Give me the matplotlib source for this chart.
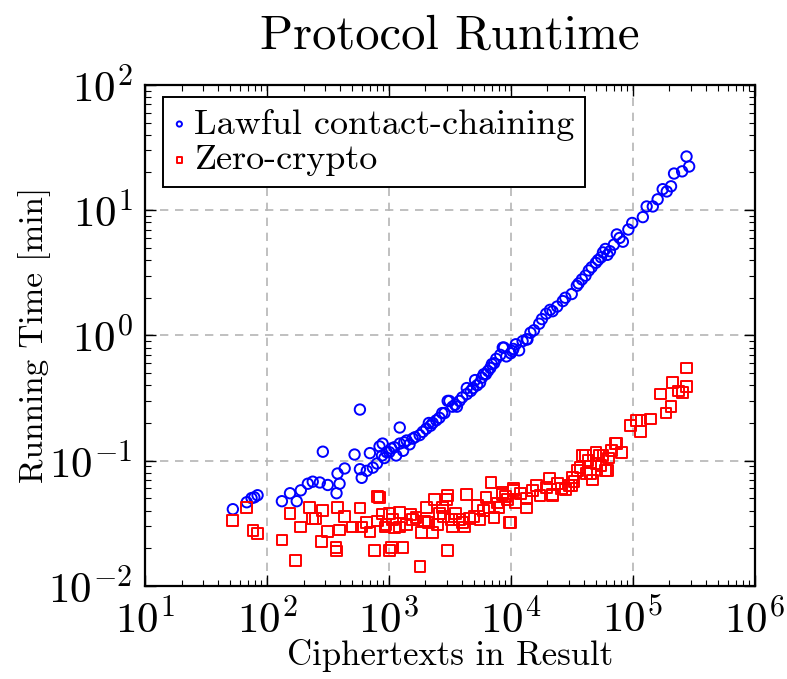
import matplotlib
matplotlib.use("Agg")
import matplotlib.pyplot as plt
from matplotlib.ticker import LogLocator

plt.rcParams["font.family"] = "cmr10"
plt.rcParams["mathtext.fontset"] = "cm"
plt.rcParams["axes.formatter.use_mathtext"] = True
plt.rcParams["axes.unicode_minus"] = False

# Lawful contact-chaining (blue circles)
lawful_x = [52.7, 68.5, 75, 79, 84, 133, 155, 176, 190, 217, 238, 272, 288, 316,
            373, 380, 395, 435, 524, 580, 580, 600, 660, 700, 740, 800, 840, 880,
            890, 960, 1010, 1110, 1230, 1230, 1310, 1340, 1570, 1640, 1790, 2030,
            2130, 2290, 2600, 2740, 2860, 3040, 3140, 3330, 3620, 3800, 4360,
            4360, 4900, 5300, 5600, 6000, 6250, 6800, 7000, 7300, 8600, 8800,
            10000, 10300, 10500, 11700, 13500, 13700, 15500, 17100, 19500, 22000,
            24000, 26700, 31600, 34800, 38300, 41000, 43600, 49800, 55000, 59700,
            65000, 74000, 78000, 83000, 99000, 121000, 130000, 146000, 160000,
            176000, 190000, 206000, 218000, 254000, 276000, 290000,
            # extra points in the dense clusters
            920, 1050, 1150, 1400, 1480, 1900, 2200, 2450, 3500, 4000, 4700,
            5100, 5800, 6500, 7600, 8200, 9200, 11000, 12500, 14500, 18000,
            21000, 28000, 36000, 46000, 52000, 57000, 62000, 70000, 92000]
lawful_y = [0.041, 0.0466, 0.0503, 0.051, 0.053, 0.0475, 0.055, 0.0475, 0.058,
            0.0655, 0.068, 0.067, 0.118, 0.064, 0.055, 0.079, 0.0655, 0.0867,
            0.112, 0.0855, 0.256, 0.073, 0.083, 0.115, 0.088, 0.095, 0.13, 0.11,
            0.137, 0.117, 0.117, 0.128, 0.137, 0.184, 0.12, 0.14, 0.15, 0.154,
            0.16, 0.18, 0.2, 0.2, 0.22, 0.24, 0.24, 0.3, 0.3, 0.27, 0.27, 0.3,
            0.34, 0.38, 0.38, 0.4, 0.42, 0.49, 0.49, 0.55, 0.59, 0.6, 0.8, 0.8,
            0.72, 0.75, 0.78, 0.76, 0.93, 0.93, 1.1, 1.24, 1.49, 1.56, 1.7, 1.88,
            2.14, 2.49, 2.8, 3.0, 3.3, 3.8, 4.2, 4.9, 4.7, 6.4, 6.0, 5.6, 7.9,
            8.8, 10.7, 10.7, 12.2, 14.7, 14.1, 15.5, 19.6, 20.4, 26.8, 22.3,
            0.105, 0.125, 0.11, 0.145, 0.135, 0.17, 0.19, 0.21, 0.28, 0.32, 0.36,
            0.44, 0.46, 0.52, 0.65, 0.7, 0.68, 0.85, 0.9, 1.05, 1.35, 1.6, 2.0,
            2.6, 3.5, 4.0, 4.6, 4.4, 5.3, 7.0]

# Zero-crypto (red squares)
zero_x = [52.7, 68.5, 77, 84, 133, 155, 173, 190, 224, 238, 252, 280, 288, 316,
          370, 373, 380, 395, 435, 505, 580, 600, 660, 700, 765, 810, 810, 840,
          880, 930, 1010, 1010, 1060, 1070, 1230, 1230, 1310, 1570, 1670, 1800,
          1860, 2030, 2130, 2290, 2360, 2600, 2740, 2980, 3040, 3040, 3260,
          3330, 3800, 4200, 4360, 4590, 5600, 6260, 6680, 6900, 7300, 8000,
          8600, 8600, 9400, 9800, 10000, 10500, 10500, 11000, 13400, 13400,
          16200, 17400, 19500, 20700, 22000, 22000, 25900, 30000, 31600, 31900,
          35200, 38600, 41200, 41500, 45000, 46500, 50000, 50000, 53000, 57000,
          60000, 62000, 63500, 72000, 74000, 81000, 96000, 107000, 115000,
          117000, 140000, 168000, 187000, 206000, 211000, 238000, 254000,
          274000, 277000,
          # extra points in the dense clusters
          950, 1120, 1400, 1500, 1950, 2500, 2800, 3500, 4000, 5000, 5300,
          6000, 7800, 9000, 12000, 15000, 24000, 28000, 33000, 37000, 43000,
          55000, 67000]
zero_y = [0.0335, 0.0424, 0.0279, 0.0263, 0.0233, 0.0378, 0.0159, 0.0296,
          0.0424, 0.0348, 0.0348, 0.0225, 0.040, 0.0274, 0.0203, 0.019, 0.0424,
          0.028, 0.036, 0.0296, 0.042, 0.0296, 0.032, 0.027, 0.0193, 0.033,
          0.052, 0.051, 0.0375, 0.0296, 0.0378, 0.0193, 0.0203, 0.034, 0.0387,
          0.0296, 0.0203, 0.034, 0.0353, 0.0143, 0.0267, 0.0424, 0.032, 0.0267,
          0.0487, 0.0378, 0.0424, 0.0487, 0.053, 0.0193, 0.034, 0.0296, 0.034,
          0.0296, 0.054, 0.0348, 0.034, 0.051, 0.0424, 0.067, 0.0353, 0.0424,
          0.054, 0.056, 0.0487, 0.032, 0.032, 0.0575, 0.060, 0.046, 0.050,
          0.042, 0.0635, 0.053, 0.061, 0.072, 0.054, 0.053, 0.060, 0.0635,
          0.0635, 0.073, 0.083, 0.11, 0.11, 0.079, 0.079, 0.070, 0.095, 0.117,
          0.11, 0.11, 0.083, 0.083, 0.105, 0.137, 0.137, 0.117, 0.19, 0.21,
          0.17, 0.21, 0.215, 0.34, 0.24, 0.27, 0.42, 0.36, 0.35, 0.55, 0.39,
          0.031, 0.029, 0.031, 0.037, 0.033, 0.031, 0.036, 0.038, 0.032, 0.036,
          0.044, 0.04, 0.046, 0.052, 0.055, 0.058, 0.066, 0.059, 0.068, 0.088,
          0.1, 0.092, 0.12]

fig = plt.figure(figsize=(7.87, 6.79), dpi=100)
ax = fig.add_axes([0.184, 0.137, 0.775, 0.738])

ax.scatter(lawful_x, lawful_y, s=56, marker="o", facecolors="none",
           edgecolors="blue", linewidths=1.4, label="Lawful contact-chaining",
           zorder=3)
ax.scatter(zero_x, zero_y, s=60, marker="s", facecolors="none",
           edgecolors="red", linewidths=1.4, label="Zero-crypto", zorder=3)

ax.set_xscale("log")
ax.set_yscale("log")
ax.set_xlim(10, 1e6)
ax.set_ylim(1e-2, 1e2)
for axis in (ax.xaxis, ax.yaxis):
    axis.set_major_locator(LogLocator(base=10, numticks=20))
    axis.set_minor_locator(LogLocator(base=10, subs=range(2, 10), numticks=20))

ax.grid(True, which="major", color="#b5b5b5", linestyle=(0, (5, 4)),
        linewidth=1.2)
ax.set_axisbelow(True)
ax.tick_params(which="both", direction="in", top=True, right=True,
               labelsize=31, pad=9)
ax.tick_params(which="major", length=8, width=1)
ax.tick_params(which="minor", length=4.5, width=0.8)
for sp in ax.spines.values():
    sp.set_linewidth(1.6)

ax.set_title("Protocol Runtime", fontsize=35, pad=26)
ax.set_xlabel("Ciphertexts in Result", fontsize=25, labelpad=-2)
ax.set_ylabel("Running Time [min]", fontsize=24, labelpad=-2)

leg = ax.legend(loc="upper left", bbox_to_anchor=(0.03, 0.975),
                fontsize=26, fancybox=False, edgecolor="black", framealpha=1,
                handlelength=0.3, handletextpad=0.25, borderaxespad=0,
                borderpad=0.3, labelspacing=0.1, markerscale=0.5)
leg.get_frame().set_linewidth(1.4)

fig.savefig("out.png", dpi=100)
